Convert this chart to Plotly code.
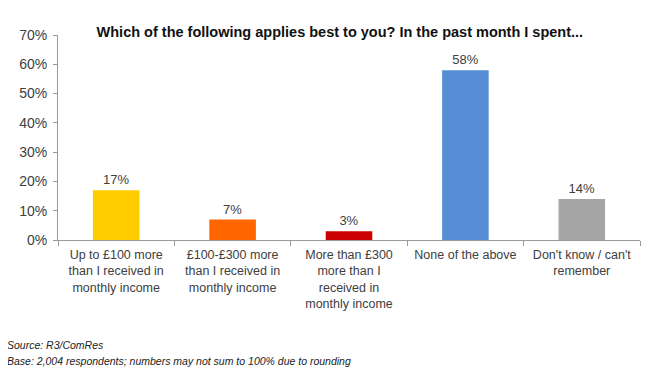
import plotly.graph_objects as go

categories = [
    "Up to £100 more<br>than I received in<br>monthly income",
    "£100-£300 more<br>than I received in<br>monthly income",
    "More than £300<br>more than I<br>received in<br>monthly income",
    "None of the above",
    "Don't know / can't<br>remember",
]
values = [17, 7, 3, 58, 14]
value_labels = ["17%", "7%", "3%", "58%", "14%"]
colors = ["#FFCC00", "#FF6600", "#CC0000", "#558ED5", "#A6A6A6"]
y_ticks = [0, 10, 20, 30, 40, 50, 60, 70]
y_tick_labels = ["0%", "10%", "20%", "30%", "40%", "50%", "60%", "70%"]

FONT = "Liberation Sans, Arial, sans-serif"
TXT = "#404040"

fig = go.Figure(
    go.Bar(
        x=categories,
        y=values,
        marker=dict(color=colors, line=dict(width=0)),
        text=value_labels,
        textposition="outside",
        textfont=dict(family=FONT, size=13, color=TXT),
        cliponaxis=False,
        width=0.4,
    )
)

fig.update_layout(
    width=652,
    height=366,
    margin=dict(l=50, r=20, t=27, b=134),
    paper_bgcolor="white",
    plot_bgcolor="white",
    showlegend=False,
    font=dict(family=FONT, size=13, color=TXT),
    title=dict(
        text="<b>Which of the following applies best to you? In the past month I spent...</b>",
        xref="container",
        yref="container",
        x=0.509,
        xanchor="center",
        y=0.934,
        yanchor="middle",
        font=dict(family=FONT, size=14.5, color="#111111"),
    ),
    bargap=0.6,
)

fig.update_xaxes(
    showline=True,
    linecolor="#9a9a9a",
    linewidth=1,
    ticks="outside",
    tickson="boundaries",
    ticklen=5,
    tickcolor="#9a9a9a",
    tickfont=dict(family=FONT, size=12.5, color=TXT),
    ticklabelstandoff=3,
    tickangle=0,
    showgrid=False,
)
fig.update_yaxes(
    range=[0, 70],
    tickvals=y_ticks,
    ticktext=y_tick_labels,
    showline=True,
    linecolor="#9a9a9a",
    linewidth=1,
    ticks="outside",
    ticklen=4,
    tickcolor="#9a9a9a",
    tickfont=dict(family=FONT, size=14, color=TXT),
    ticklabelstandoff=3,
    showgrid=False,
    zeroline=False,
)

fig.add_annotation(
    text="<i>Source: R3/ComRes</i>",
    xref="paper", yref="paper", x=-0.0859, y=-0.512, xanchor="left", yanchor="middle",
    showarrow=False, font=dict(family=FONT, size=10.5, color="#222222"), xshift=-3,
)
fig.add_annotation(
    text="<i>Base: 2,004 respondents; numbers may not sum to 100% due to rounding</i>",
    xref="paper", yref="paper", x=-0.0859, y=-0.590, xanchor="left", yanchor="middle",
    showarrow=False, font=dict(family=FONT, size=10.5, color="#222222"), xshift=-3,
)

fig.write_html("out.html")
